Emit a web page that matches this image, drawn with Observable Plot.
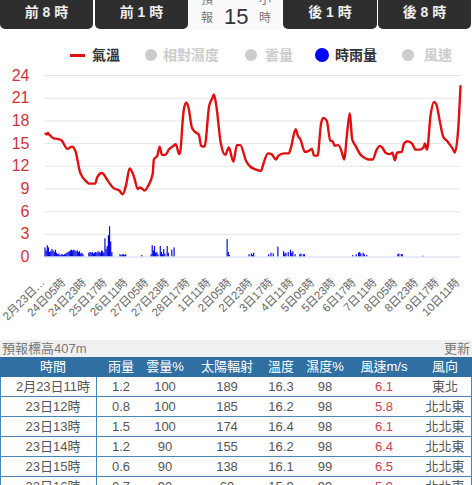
<!DOCTYPE html>
<html><head><meta charset="utf-8">
<script src="https://cdn.jsdelivr.net/npm/d3@7"></script>
<script src="https://cdn.jsdelivr.net/npm/@observablehq/plot@0.6"></script>
<style>
body{margin:0;width:472px;height:485px;overflow:hidden;background:#fff;position:relative;font-family:"Liberation Sans",Arial,"Noto Sans CJK TC",sans-serif}
.btn{position:absolute;top:0;height:29px;background:#2e2e2e;color:#eee;font-weight:bold;font-size:14px;text-align:center;line-height:25px;border-radius:0 0 5px 5px}
.a{position:absolute;white-space:nowrap}
.lg{position:absolute;top:45px;line-height:20px;font-size:14px;font-weight:bold;white-space:nowrap}
.dot{position:absolute;border-radius:50%}
.cell{position:absolute;transform:translateX(-50%);white-space:nowrap;font-size:13px;line-height:20px}
#chart{position:absolute;left:0;top:60px}
</style></head><body>
<div id="nav"></div>
<div id="legend"></div>
<div id="chart"></div>
<div id="table"></div>
<script>
// ---------- data ----------
const navLabels = ["前 8 時","前 1 時","後 1 時","後 8 時"];
const legendNames = ["氣溫","相對濕度","雲量","時雨量","風速"];

const tickHours = [0,18,36,54,72,90,108,126,144,162,180,198,216,234,252,270,288,306,324,342,360];
const tickLabels = ["2月23日…","24日05時","24日23時","25日17時","26日11時","27日05時","27日23時","28日17時","1日11時","2日05時","2日23時","3日17時","4日11時","5日05時","5日23時","6日17時","7日11時","8日05時","8日23時","9日17時","10日11時"];
const yTicks = [0,3,6,9,12,15,18,21,24];

const tempHours = [0,1,2,3,4,5,7,11,14,19,23,26,30,36,38,43,45,49,54,59,64,67,70,73,77,80,82,86,89,93,94,97,99,101,104,107,111,113,116,117,119,120,122,124,127,130,133,135,138,142,145,146,148,152,156,159,163,166,169,174,178,182,187,189,193,196,200,202,207,211,213,217,219,221,225,228,231,233,236,239,241,244,247,249,251,254,257,259,262,264,266,269,273,277,280,284,287,290,292,295,299,301,303,305,309,311,314,318,321,325,328,329,331,334,337,339,342,345,348,351,354,355,358,360];
const temps = [16.3,16.2,16.4,16.2,16.1,15.9,15.7,15.6,15.4,14.3,14.6,14.0,11.2,9.9,9.7,9.7,10.6,11.1,10.1,9.1,8.8,8.3,9.6,11.7,10.5,9.0,9.2,8.8,9.4,11.0,12.9,13.4,14.6,13.5,13.5,14.2,14.7,14.9,13.6,14.0,18.0,19.5,20.4,19.8,17.1,16.5,16.2,14.7,14.6,20.0,21.1,21.5,20.2,15.1,13.5,14.5,12.6,14.8,14.8,12.7,11.9,11.6,11.4,12.3,13.7,13.6,12.9,13.4,13.7,13.7,14.5,16.9,16.0,15.6,13.9,14.0,14.3,13.4,13.4,17.6,18.4,18.0,15.4,15.3,14.7,14.8,13.9,12.9,16.9,19.0,15.6,14.7,13.6,13.1,12.9,12.9,14.1,14.7,14.5,13.8,13.6,13.8,12.8,13.8,13.9,15.0,15.3,15.0,14.2,14.2,14.5,15.0,14.2,18.7,20.5,20.2,18.0,15.9,15.4,14.8,14.1,13.8,16.9,22.6];

const rainHours = [0,1,2,3,4,5,6,7,8,9,10,11,12,13,14,15,16,17,18,19,20,21,22,23,24,25,26,27,28,29,30,31,32,33,38,39,40,41,42,43,44,45,46,47,48,49,50,51,52,53,54,55,56,57,58,65,66,67,68,69,70,84,92,93,94,95,96,97,98,100,101,102,103,104,106,107,110,112,158,159,160,177,179,180,181,194,196,198,202,207,208,209,211,213,214,215,217,221,222,224,225,267,270,272,273,274,276,277,279,306,307,309,310,328];
const rainMm = [1.2,0.8,1.5,1.2,0.6,0.7,1.0,0.8,0.6,0.9,0.5,0.3,0.4,0.2,0.3,0.3,0.2,0.3,0.4,0.5,0.6,0.7,0.8,0.9,0.8,0.9,0.8,0.7,0.8,0.6,0.7,0.4,0.5,0.3,0.5,0.6,0.5,0.6,0.4,0.5,0.6,0.5,0.7,0.6,0.5,0.8,0.7,0.5,2.4,1.0,1.4,2.8,4.0,2.0,0.6,0.3,0.2,0.3,0.3,0.2,0.3,0.2,0.3,1.5,0.8,1.4,0.5,0.6,0.3,1.4,0.6,0.3,1.0,0.4,1.4,0.5,0.9,1.2,2.3,0.6,0.2,0.3,0.4,0.2,0.5,0.3,0.5,0.4,1.3,0.7,0.4,0.5,0.6,0.9,0.5,0.7,0.3,0.3,0.4,0.3,0.3,0.2,0.3,0.5,0.6,0.4,0.5,0.3,0.2,0.3,0.4,0.3,0.3,0.1];

const tableHeaders = ["時間","雨量","雲量%","太陽輻射","溫度","濕度%","風速m/s","風向"];
const rowTimes = ["2月23日11時","23日12時","23日13時","23日14時","23日15時","23日16時"];
const rowRain = ["1.2","0.8","1.5","1.2","0.6","0.7"];
const rowCloud = ["100","100","100","90","90","90"];
const rowSolar = ["189","185","174","155","138","69"];
const rowTemp = ["16.3","16.2","16.4","16.2","16.1","15.9"];
const rowHumid = ["98","98","98","98","99","99"];
const rowWind = ["6.1","5.8","6.1","6.4","6.5","5.9"];
const rowDir = ["東北","北北東","北北東","北北東","北北東","北北東"];

// ---------- nav ----------
const nav = document.getElementById("nav");
const btnPos = [[0,93],[95,93],[283,94],[378,93]];
navLabels.forEach((t,i)=>{
  const d=document.createElement("div");d.className="btn";
  d.style.left=btnPos[i][0]+"px";d.style.width=btnPos[i][1]+"px";d.textContent=t;nav.appendChild(d);
});
nav.insertAdjacentHTML("beforeend",
 `<div class="a" style="left:189px;top:0;width:93px;height:30px;background:#fafafa"></div>
  <div class="a" style="left:201px;top:-9px;font-size:12px;color:#777;line-height:18px">預<br>報</div>
  <div class="a" style="left:224px;top:4px;font-size:22px;color:#333;line-height:26px">15</div>
  <div class="a" style="left:259px;top:-9px;font-size:12px;color:#777;line-height:18px">小<br>時</div>`);

// ---------- legend ----------
const lg = document.getElementById("legend");
lg.insertAdjacentHTML("beforeend",
 `<div class="a" style="left:70px;top:54px;width:15px;height:2.5px;background:#e01010"></div>
  <div class="lg" style="left:92px;color:#333">${legendNames[0]}</div>
  <div class="dot" style="left:145px;top:49px;width:12px;height:12px;background:#cccccc"></div>
  <div class="lg" style="left:163px;color:#cccccc">${legendNames[1]}</div>
  <div class="dot" style="left:245px;top:49px;width:12px;height:12px;background:#cccccc"></div>
  <div class="lg" style="left:265px;color:#cccccc">${legendNames[2]}</div>
  <div class="dot" style="left:315px;top:48px;width:14px;height:14px;background:#0000ff"></div>
  <div class="lg" style="left:335px;color:#333">${legendNames[3]}</div>
  <div class="dot" style="left:402px;top:49px;width:12px;height:12px;background:#cccccc"></div>
  <div class="lg" style="left:424px;color:#cccccc">${legendNames[4]}</div>`);

// ---------- chart ----------
const tempData = tempHours.map((h,i)=>({h, t: temps[i]}));
const rainData = rainHours.map((h,i)=>({h, mm: rainMm[i]}));
const tickData = tickHours.map((h,i)=>({h, label: tickLabels[i]}));

const chart = Plot.plot({
  width: 472, height: 280,
  marginTop: 15, marginBottom: 83.5, marginLeft: 45, marginRight: 12,
  style: {fontFamily: '"Liberation Sans", Arial, "Noto Sans CJK TC", sans-serif', background: "transparent"},
  x: {domain: [0, 360], axis: null},
  y: {domain: [0, 24], axis: null},
  marks: [
    Plot.ruleY(yTicks.filter(v=>v>0), {stroke: "#e6e6e6", strokeWidth: 1}),
    Plot.rectY(rainData, {x1: d=>d.h-0.5, x2: d=>d.h+0.5, y: "mm", fill: "#0000e0"}),
    Plot.ruleY([0], {stroke: "#ccd6eb", strokeWidth: 1}),
    Plot.line(tempData, {x: "h", y: "t", stroke: "#e01010", strokeWidth: 2.4, curve: "monotone-x"}),
    Plot.axisY({ticks: yTicks, tickSize: 0, tickPadding: 16, fill: "#d13438", fontSize: 16, label: null}),
    Plot.text(tickData, {x: "h", frameAnchor: "bottom", text: "label", rotate: -45, textAnchor: "end", dx: 0, dy: 26, fill: "#666", fontSize: 11.5})
  ]
});
document.getElementById("chart").appendChild(chart);

// ---------- table ----------
const tb = document.getElementById("table");
const colX = [53,121,165,227,281,325,384,445];
let html = `<div class="a" style="left:0;top:340px;width:472px;height:17px;background:#f0f0f0"></div>
 <div class="a" style="left:2px;top:340px;line-height:17px;font-size:13px;color:#777">預報標高407m</div>
 <div class="a" style="left:444px;top:340px;line-height:17px;font-size:13px;color:#777">更新</div>
 <div class="a" style="left:0;top:357px;width:472px;height:20px;background:#2f6fa2"></div>`;
tableHeaders.forEach((h,i)=>{ html += `<div class="cell" style="left:${colX[i]}px;top:357px;color:#fff">${h}</div>`; });
const cols = [rowTimes,rowRain,rowCloud,rowSolar,rowTemp,rowHumid,rowWind,rowDir];
rowTimes.forEach((_,r)=>{
  const top = 377 + r*20;
  html += `<div class="a" style="left:0;top:${top}px;width:470px;height:19px;border:1px solid #4a85b8;border-top:none"></div>`;
  html += `<div class="a" style="left:96px;top:${top}px;width:1px;height:20px;background:#4a85b8"></div>`;
  cols.forEach((c,i)=>{
    const color = i===6 ? "#c8434b" : "#555";
    html += `<div class="cell" style="left:${colX[i]}px;top:${top}px;color:${color}">${c[r]}</div>`;
  });
});
tb.innerHTML = html;
</script>
</body></html>
